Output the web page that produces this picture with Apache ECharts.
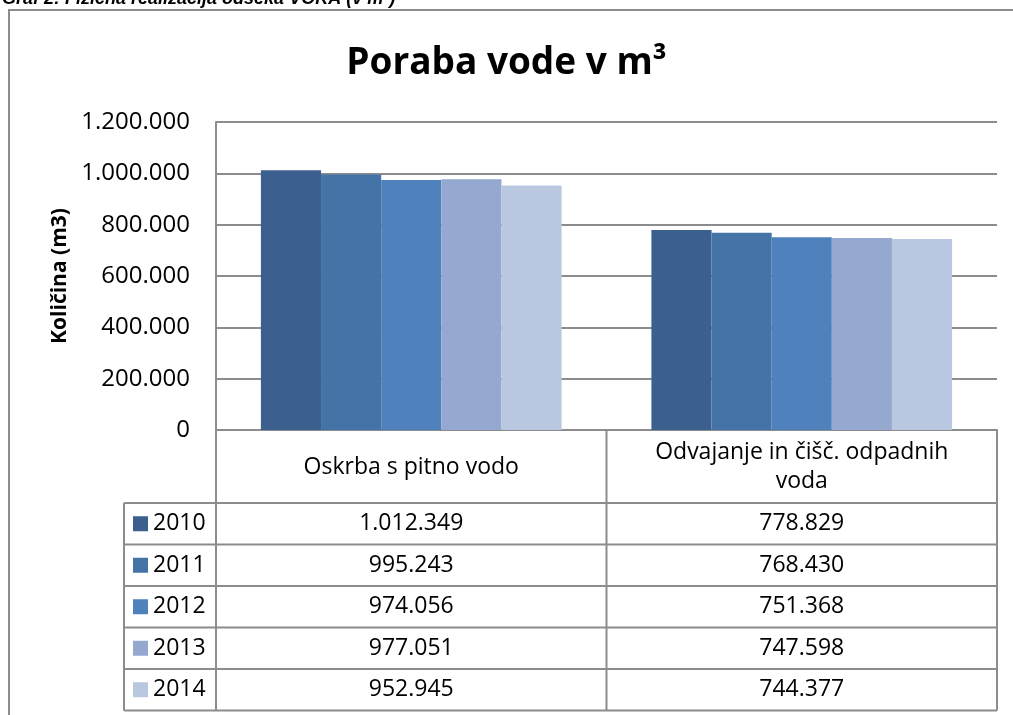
<!DOCTYPE html>
<html>
<head>
<meta charset="utf-8">
<title>Poraba vode v m³</title>
<script src="https://cdn.jsdelivr.net/npm/echarts@6/dist/echarts.min.js"></script>
<style>
  html, body { margin: 0; padding: 0; background: #fff; }
  #chart { width: 1013px; height: 715px; }
</style>
</head>
<body>
<div id="chart"></div>
<script>
// podatki
const categories = ['Oskrba s pitno vodo', 'Odvajanje in čišč. odpadnih\nvoda']
const years = ['2010', '2011', '2012', '2013', '2014']
const oskrba = [1012349, 995243, 974056, 977051, 952945]
const odvajanje = [778829, 768430, 751368, 747598, 744377]
const yTicks = [0, 200000, 400000, 600000, 800000, 1000000, 1200000]
const colors = ['#3b5f8e', '#4473a8', '#4f81bd', '#95a9d0', '#bac7e1']

const FONT = '"Open Sans", "Noto Sans", sans-serif'
const LINE = '#8c8c8c'

// postavitev
const G = { left: 216, top: 122, right: 997, bottom: 430 }
const ROW_TOP = 503
const ROW_H = 41.5
const LEG_LEFT = 124
const MID = (G.left + G.right) / 2

// 1012349 -> "1.012.349"
const fmt = v => String(v).replace(/\B(?=(\d{3})+(?!\d))/g, '.')

const rows = years.map((y, i) => [oskrba[i], odvajanje[i]])

// tabela pod grafom (črte)
const tableLines = []
const hline = (x1, x2, y) => tableLines.push({ type: 'line', shape: { x1, y1: y, x2, y2: y }, style: { stroke: LINE, lineWidth: 2 }, silent: true })
const vline = (x, y1, y2) => tableLines.push({ type: 'line', shape: { x1: x, y1, x2: x, y2 }, style: { stroke: LINE, lineWidth: 2 }, silent: true })
for (let i = 0; i <= years.length; i++) hline(LEG_LEFT, G.right, ROW_TOP + i * ROW_H)
const tableBottom = ROW_TOP + years.length * ROW_H
vline(LEG_LEFT, ROW_TOP, tableBottom)
vline(G.left, G.bottom, tableBottom)
vline(MID, G.bottom, tableBottom)
vline(G.right, G.bottom, tableBottom)

// dodatne x osi = vrstice tabele
const rowAxes = rows.map((r, i) => ({
  type: 'category',
  gridIndex: 0,
  position: 'bottom',
  data: categories,
  axisLine: { show: false },
  axisTick: { show: false },
  splitLine: { show: false },
  axisLabel: {
    interval: 0,
    margin: ROW_TOP + ROW_H * i + ROW_H / 2 - G.bottom,
    verticalAlign: 'middle',
    fontFamily: FONT,
    fontSize: 23,
    color: '#000',
    formatter: (v, idx) => fmt(r[idx])
  }
}))

var myChart = echarts.init(document.getElementById('chart'), null, { renderer: 'canvas' })

var option = {
  animation: false,
  color: colors,
  title: {
    text: 'Poraba vode v m³',
    left: 'center',
    top: 40,
    textStyle: { fontFamily: FONT, fontSize: 37, fontWeight: 'bold', color: '#000' }
  },
  legend: {
    orient: 'vertical',
    left: 133,
    top: ROW_TOP,
    padding: 0,
    itemGap: 0,
    itemWidth: 15,
    itemHeight: 15,
    selectedMode: false,
    icon: 'rect',
    data: years,
    textStyle: { fontFamily: FONT, fontSize: 23, color: '#000', lineHeight: ROW_H, padding: [0, 0, 0, 0] }
  },
  grid: {
    left: G.left,
    top: G.top,
    right: 1013 - G.right,
    bottom: 715 - G.bottom
  },
  xAxis: [{
    type: 'category',
    data: categories,
    axisLine: { show: true, lineStyle: { color: LINE, width: 2 } },
    axisTick: { show: false },
    axisLabel: {
      interval: 0,
      margin: 37,
      verticalAlign: 'middle',
      lineHeight: 29,
      fontFamily: FONT,
      fontSize: 23,
      color: '#000'
    }
  }].concat(rowAxes),
  yAxis: {
    type: 'value',
    min: yTicks[0],
    max: yTicks[yTicks.length - 1],
    interval: yTicks[1] - yTicks[0],
    name: 'Količina (m3)',
    nameLocation: 'middle',
    nameRotate: 90,
    nameGap: 145,
    nameTextStyle: { fontFamily: FONT, fontSize: 21, fontWeight: 'bold', color: '#000' },
    axisLine: { show: true, lineStyle: { color: LINE, width: 2 } },
    axisTick: { show: false },
    splitLine: { show: true, lineStyle: { color: LINE, width: 2 } },
    axisLabel: {
      margin: 26,
      fontFamily: FONT,
      fontSize: 24,
      color: '#000',
      formatter: v => fmt(v)
    }
  },
  series: years.map((y, i) => ({
    name: y,
    type: 'bar',
    xAxisIndex: 0,
    data: rows[i],
    barGap: '0%',
    barCategoryGap: '23%',
    itemStyle: { color: colors[i] }
  })),
  graphic: [
    {
      type: 'rect',
      shape: { x: 9, y: 10, width: 1030, height: 730 },
      style: { fill: 'none', stroke: LINE, lineWidth: 2 },
      silent: true
    },
    {
      type: 'text',
      left: 2,
      top: -10,
      style: {
        text: 'Graf 2: Fizična realizacija odseka VOKA (v m³)',
        font: 'italic bold 18px "Liberation Sans", Arial, sans-serif',
        fill: '#000'
      },
      silent: true
    }
  ].concat(tableLines)
}

myChart.setOption(option, true)

window.addEventListener('resize', function () {
  myChart && myChart.resize()
})
</script>
</body>
</html>
